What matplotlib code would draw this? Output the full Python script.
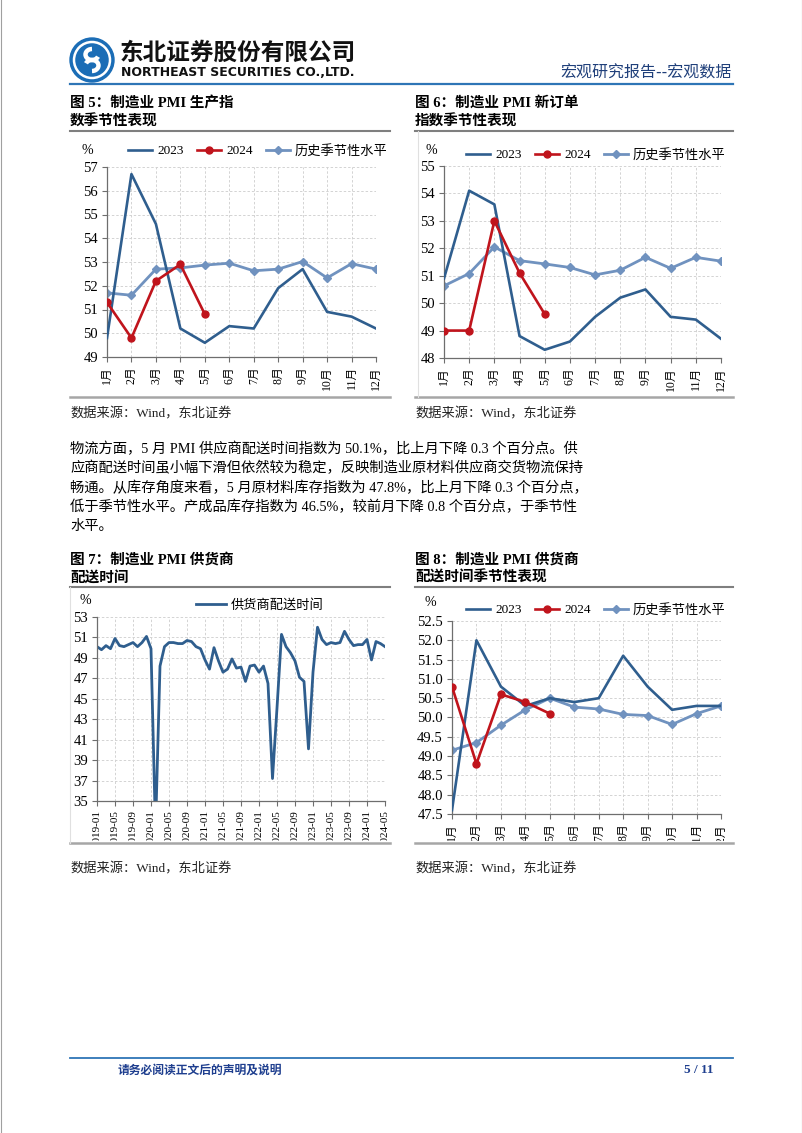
import matplotlib
matplotlib.use("Agg")
import matplotlib.pyplot as plt
from matplotlib.patches import Circle, Rectangle, Arc
import numpy as np

W, H = 802, 1133
SERIF = ['Liberation Serif', 'Noto Sans CJK SC']
CJK = ['Noto Sans CJK SC', 'DejaVu Sans']
plt.rcParams['font.family'] = SERIF

# ---------------- data ----------------
months = ['1月', '2月', '3月', '4月', '5月', '6月', '7月', '8月', '9月', '10月', '11月', '12月']

prod_2023 = [49.8, 56.7, 54.6, 50.2, 49.6, 50.3, 50.2, 51.9, 52.7, 50.9, 50.7, 50.2]
prod_2024 = [51.3, 49.8, 52.2, 52.9, 50.8]
prod_hist = [51.7, 51.6, 52.7, 52.75, 52.87, 52.95, 52.63, 52.7, 53.02, 52.33, 52.93, 52.7]

order_2023 = [50.9, 54.1, 53.6, 48.8, 48.3, 48.6, 49.5, 50.2, 50.5, 49.5, 49.4, 48.7]
order_2024 = [49.0, 49.0, 53.0, 51.1, 49.6]
order_hist = [50.63, 51.08, 52.05, 51.55, 51.43, 51.3, 51.03, 51.2, 51.67, 51.27, 51.67, 51.53]

deliv_2023 = [47.6, 52.0, 50.8, 50.3, 50.5, 50.4, 50.5, 51.6, 50.8, 50.2, 50.3, 50.3]
deliv_2024 = [50.8, 48.8, 50.6, 50.4, 50.1]
deliv_hist = [49.15, 49.35, 49.8, 50.2, 50.5, 50.27, 50.22, 50.08, 50.05, 49.82, 50.1, 50.3]

# 供货商配送时间 2019-01 ~ 2024-05
supplier = [50.1, 49.8, 50.2, 49.9, 50.9, 50.2, 50.1, 50.3, 50.5, 50.1, 50.5, 51.1,
            49.9, 32.1, 48.2, 50.1, 50.5, 50.5, 50.4, 50.4, 50.7, 50.6, 50.1, 49.9,
            48.8, 47.9, 50.0, 48.7, 47.6, 47.9, 48.9, 48.0, 48.1, 46.7, 48.2, 48.3,
            47.6, 48.2, 46.5, 37.2, 44.1, 51.3, 50.1, 49.5, 48.7, 47.1, 46.7, 40.1,
            47.6, 52.0, 50.8, 50.3, 50.5, 50.4, 50.5, 51.6, 50.8, 50.2, 50.3, 50.3,
            50.8, 48.8, 50.6, 50.4, 50.1]
supplier_labels = ['2019-01', '2019-05', '2019-09', '2020-01', '2020-05', '2020-09',
                   '2021-01', '2021-05', '2021-09', '2022-01', '2022-05', '2022-09',
                   '2023-01', '2023-05', '2023-09', '2024-01', '2024-05']

body = ['物流方面，5 月 PMI 供应商配送时间指数为 50.1%，比上月下降 0.3 个百分点。供',
        '应商配送时间虽小幅下滑但依然较为稳定，反映制造业原材料供应商交货物流保持',
        '畅通。从库存角度来看，5 月原材料库存指数为 47.8%，比上月下降 0.3 个百分点，',
        '低于季节性水平。产成品库存指数为 46.5%，较前月下降 0.8 个百分点，于季节性',
        '水平。']

C23 = '#2F5E8E'
C24 = '#C0141C'
CH = '#7092BF'
GRID = '#D3D3D3'
SPINE = '#6E6E6E'

fig = plt.figure(figsize=(W / 100, H / 100), dpi=100)


def box(l, t, r, b):
    return fig.add_axes([l / W, 1 - b / H, (r - l) / W, (b - t) / H])


def style(ax, ylo, yhi, step, fmt='%d'):
    ax.set_ylim(ylo, yhi)
    ticks = np.arange(ylo, yhi + step / 2, step)
    ax.set_yticks(ticks)
    ax.set_yticklabels([fmt % t for t in ticks])
    ax.grid(True, color=GRID, linestyle=(0, (2.5, 2)), linewidth=0.7)
    ax.set_axisbelow(True)
    for s in ['top', 'right']:
        ax.spines[s].set_visible(False)
    for s in ['left', 'bottom']:
        ax.spines[s].set_color(SPINE)
        ax.spines[s].set_linewidth(0.9)
    ax.tick_params(axis='both', direction='out', length=3.5, width=0.8,
                   color=SPINE, labelsize=10.5, pad=3)


def seasonal(ax, y23, y24, hist, legend_xy):
    x = np.arange(12)
    ax.plot(x, y23, color=C23, lw=1.9, label='2023', zorder=3)
    ax.plot(x[:len(y24)], y24, color=C24, lw=1.9, marker='o', ms=5, label='2024', zorder=4)
    ax.plot(x, hist, color=CH, lw=2.0, marker='D', ms=4.5, label='历史季节性水平', zorder=2)
    ax.set_xlim(0, 11)
    ax.set_xticks(x)
    ax.set_xticklabels(months, rotation=90, fontsize=8.5)
    h, l = ax.get_legend_handles_labels()
    ax.legend(h, l, loc='center', bbox_to_anchor=(legend_xy[0] / W, 1 - legend_xy[1] / H),
              bbox_transform=fig.transFigure, ncol=3, frameon=False, fontsize=9.5,
              handlelength=1.8, handletextpad=0.4, columnspacing=1.0,
              borderpad=0, borderaxespad=0)


# 图5
ax5 = box(107, 167, 376, 357)
style(ax5, 49, 57, 1)
seasonal(ax5, prod_2023, prod_2024, prod_hist, (258, 151))

# 图6
ax6 = box(444, 166, 721, 358)
style(ax6, 48, 55, 1)
seasonal(ax6, order_2023, order_2024, order_hist, (596, 155))

# 图7
ax7 = box(97, 617, 385, 801)
style(ax7, 35, 53, 2)
x7 = np.arange(len(supplier))
ax7.plot(x7, supplier, color=C23, lw=2.0, label='供货商配送时间')
ax7.set_xlim(0, len(supplier) - 1)
ax7.set_xticks(x7[::4])
ax7.set_xticklabels(supplier_labels, rotation=90, fontsize=8)
ax7.legend(loc='center', bbox_to_anchor=(260 / W, 1 - 605 / H), bbox_transform=fig.transFigure,
           frameon=False, fontsize=9.5, handlelength=2.2, handletextpad=0.4,
           borderpad=0, borderaxespad=0)

# 图8
ax8 = box(452, 621, 721, 814)
style(ax8, 47.5, 52.5, 0.5, '%.1f')
seasonal(ax8, deliv_2023, deliv_2024, deliv_hist, (596, 610))

# ---------------- page overlay ----------------
pg = fig.add_axes([0, 0, 1, 1], zorder=10)
pg.set_xlim(0, W)
pg.set_ylim(H, 0)
pg.axis('off')
pg.patch.set_alpha(0)

# page border
pg.plot([0.5, 0.5], [0, H], color='#A0A0A0', lw=0.8)
pg.plot([W - 0.5, W - 0.5], [0, H], color='#A0A0A0', lw=0.8)

# header logo
pg.add_patch(Circle((92, 60), 22, color='#1B6DB6'))
pg.add_patch(Circle((92, 60), 18, fill=False, ec='white', lw=1.8))
pg.add_patch(Arc((92, 54.5), 13, 11, theta1=20, theta2=270, color='white', lw=3.2))
pg.add_patch(Arc((92, 65.5), 13, 11, theta1=200, theta2=450, color='white', lw=3.2))
pg.text(120, 53, '东北证券股份有限公司', family=CJK, fontsize=17, fontweight='bold',
        ha='left', va='center', color='#111111')
pg.text(121, 73, 'NORTHEAST SECURITIES CO.,LTD.', family=['DejaVu Sans'], fontsize=9,
        fontweight='bold', ha='left', va='center', color='#111111')
pg.text(732, 73, '宏观研究报告--宏观数据', family=CJK, fontsize=11.5, ha='right',
        va='center', color='#1F3F7A')
pg.plot([70, 733], [84, 84], color='#2E75B6', lw=1.6)

# chart titles
ttl = dict(family=SERIF, fontsize=10.5, fontweight='bold', ha='left', va='center', color='black')
pg.text(70, 103, '图 5：制造业 PMI 生产指', **ttl)
pg.text(70, 122, '数季节性表现', **ttl)
pg.text(415, 103, '图 6：制造业 PMI 新订单', **ttl)
pg.text(415, 122, '指数季节性表现', **ttl)
pg.text(70, 560, '图 7：制造业 PMI 供货商', **ttl)
pg.text(70, 578, '配送时间', **ttl)
pg.text(415, 560, '图 8：制造业 PMI 供货商', **ttl)
pg.text(415, 578, '配送时间季节性表现', **ttl)

for x0, x1 in [(70, 390), (415, 733)]:
    pg.plot([x0, x1], [131, 131], color='#7F7F7F', lw=1.5)
    pg.plot([x0, x1], [397, 397], color='#A6A6A6', lw=1.8)
    pg.plot([x0, x1], [587, 587], color='#7F7F7F', lw=1.5)
# cut the rotated labels at the picture frame
pg.add_patch(Rectangle((65, 841), 680, 16, color='white', zorder=1))
for x0, x1 in [(70, 390), (415, 733)]:
    pg.plot([x0, x1], [843, 843], color='#A6A6A6', lw=1.8, zorder=2)
# light picture frames
pg.plot([418, 418], [131, 397], color='#E0E0E0', lw=0.8)
pg.plot([70, 70], [587, 843], color='#E0E0E0', lw=0.8)

# % units
for (ux, uy) in [(87, 151), (431, 150), (85, 601), (430, 603)]:
    pg.text(ux, uy, '%', fontsize=10, ha='center', va='center')

src = dict(family=SERIF, fontsize=9.5, ha='left', va='center', color='#222222')
pg.text(70, 414, '数据来源：Wind，东北证券', **src)
pg.text(415, 414, '数据来源：Wind，东北证券', **src)
pg.text(70, 869, '数据来源：Wind，东北证券', **src)
pg.text(415, 869, '数据来源：Wind，东北证券', **src)

# body text
for i, line in enumerate(body):
    pg.text(70, 449 + i * 19.3, line, family=SERIF, fontsize=10.3, ha='left', va='center',
            color='black')

# footer
pg.plot([70, 733], [1058, 1058], color='#2E75B6', lw=1.3)
pg.text(118, 1070, '请务必阅读正文后的声明及说明', family=CJK, fontsize=8.5,
        fontweight='bold', ha='left', va='center', color='#1F3F8F')
pg.text(714, 1070, '5 / 11', family=SERIF, fontsize=9.5, fontweight='bold',
        ha='right', va='center', color='#1F3F8F')

fig.savefig('out.png', dpi=100)
